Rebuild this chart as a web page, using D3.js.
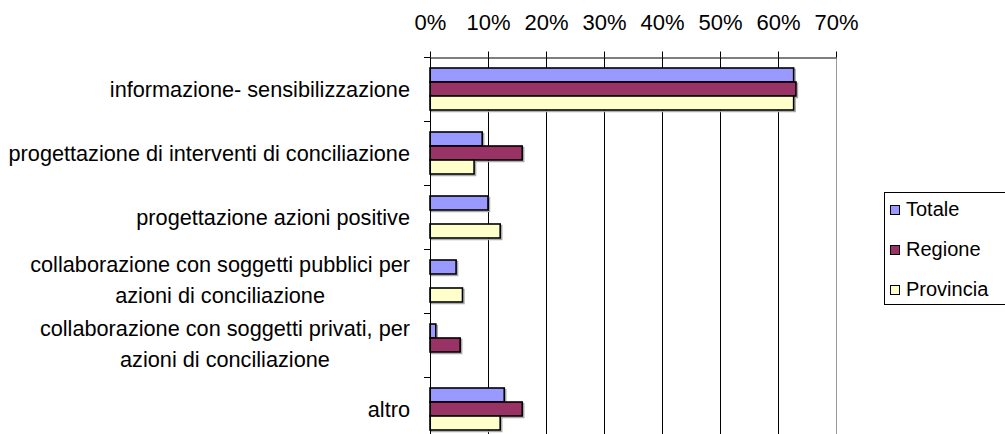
<!DOCTYPE html>
<html>
<head>
<meta charset="utf-8">
<script src="https://cdn.jsdelivr.net/npm/d3@7"></script>
<style>
  body { margin: 0; background: #fff; }
  svg { display: block; font-family: "Liberation Sans", Arial, sans-serif; }
</style>
</head>
<body>
<div id="chart"></div>
<script>
// dati (quota di risposte, 0-1)
const categories = [
  "informazione- sensibilizzazione",
  "progettazione di interventi di conciliazione",
  "progettazione azioni positive",
  "collaborazione con soggetti pubblici per\nazioni di conciliazione",
  "collaborazione con soggetti privati, per\nazioni di conciliazione",
  "altro"
];
const series = ["Totale", "Regione", "Provincia"];
const totale    = [0.627, 0.090, 0.100, 0.045, 0.010, 0.128];
const regione   = [0.631, 0.159, 0,     0,     0.052, 0.159];
const provincia = [0.627, 0.076, 0.121, 0.056, 0,     0.121];
const xTicks = [0, 0.1, 0.2, 0.3, 0.4, 0.5, 0.6, 0.7];
const colors = ["#9999ff", "#993366", "#ffffcc"];

const values = [totale, regione, provincia];
const rows = [];
categories.forEach((c, i) => {
  series.forEach((s, j) => rows.push({ cat: c, key: s, value: values[j][i] }));
});

const W = 1005, H = 434;
const svg = d3.select("#chart")
  .append("svg")
  .attr("width", W)
  .attr("height", H);

svg.append("rect").attr("width", W).attr("height", H).attr("fill", "#fff");

const x = d3.scaleLinear()
  .domain([0, 0.7])
  .range([430, 836]);

const y = d3.scaleBand()
  .domain(categories)
  .range([57.5, 57.5 + 64 * categories.length]);

const y1 = d3.scaleBand()
  .domain(series)
  .range([10.5, 52.5]);

const color = d3.scaleOrdinal().domain(series).range(colors);

// griglia verticale
svg.append("g")
  .selectAll("line")
  .data(xTicks.slice(1))
  .join("line")
  .attr("x1", d => Math.round(x(d)) + 0.5)
  .attr("x2", d => Math.round(x(d)) + 0.5)
  .attr("y1", y.range()[0])
  .attr("y2", H)
  .attr("stroke", (d, i) => i === xTicks.length - 2 ? "#999" : "#000")
  .attr("stroke-width", 1);

// barre (ombra + barra)
const bars = svg.append("g");
bars.selectAll("rect.shadow")
  .data(rows.filter(d => d.value > 0))
  .join("rect")
  .attr("class", "shadow")
  .attr("x", x(0) + 1.5)
  .attr("y", d => y(d.cat) + y1(d.key) + 1.5)
  .attr("width", d => x(d.value) - x(0))
  .attr("height", y1.bandwidth())
  .attr("fill", "none")
  .attr("stroke", "#aaa")
  .attr("stroke-width", 1.5);

bars.selectAll("rect.bar")
  .data(rows.filter(d => d.value > 0))
  .join("rect")
  .attr("class", "bar")
  .attr("x", x(0))
  .attr("y", d => y(d.cat) + y1(d.key))
  .attr("width", d => x(d.value) - x(0))
  .attr("height", y1.bandwidth())
  .attr("fill", d => color(d.key))
  .attr("stroke", "#000")
  .attr("stroke-width", 1.6);

// asse superiore
const xAxis = svg.append("g")
  .attr("transform", `translate(0,${y.range()[0]})`)
  .call(d3.axisTop(x)
    .tickValues(xTicks)
    .tickFormat(d3.format(".0%"))
    .tickSize(6)
    .tickSizeOuter(0)
    .tickPadding(22));
xAxis.select(".domain").attr("stroke", "#000");
xAxis.selectAll(".tick line").attr("stroke", "#000");
xAxis.selectAll("text")
  .attr("fill", "#000")
  .style("font-size", "22px")
  .style("font-family", "'Liberation Sans', Arial, sans-serif");

// asse categorie
const yAxis = svg.append("g")
  .attr("transform", `translate(${x(0)},0)`);
yAxis.append("line")
  .attr("x1", 0.5).attr("x2", 0.5)
  .attr("y1", y.range()[0]).attr("y2", H)
  .attr("stroke", "#000");
yAxis.selectAll("line.tk")
  .data(categories)
  .join("line")
  .attr("class", "tk")
  .attr("x1", -6).attr("x2", 0)
  .attr("y1", d => y(d)).attr("y2", d => y(d))
  .attr("stroke", "#000");

// etichette categorie
const labelRight = 410;
categories.forEach(c => {
  const lines = c.split("\n");
  const cy = y(c) + y.bandwidth() / 2;
  const t = svg.append("text")
    .attr("fill", "#000")
    .style("font-size", "21.7px");
  if (lines.length === 1) {
    t.attr("x", labelRight).attr("y", cy + 7.5)
      .attr("text-anchor", "end")
      .text(c);
  } else {
    const spans = lines.map((l, i) => t.append("tspan")
      .attr("y", cy - 10 + i * 31)
      .text(l));
    const maxW = d3.max(spans, s => s.node().getComputedTextLength());
    t.attr("text-anchor", "middle");
    spans.forEach(s => s.attr("x", labelRight - maxW / 2));
  }
});

// legenda
const legend = svg.append("g");
legend.append("rect")
  .attr("x", 884.5).attr("y", 192.5)
  .attr("width", 125).attr("height", 112)
  .attr("fill", "#fff")
  .attr("stroke", "#000");

const item = legend.selectAll("g.item")
  .data(series)
  .join("g")
  .attr("class", "item")
  .attr("transform", (d, i) => `translate(0,${216 + i * 40})`);

item.append("rect")
  .attr("x", 890.5).attr("y", -10.5)
  .attr("width", 9).attr("height", 9)
  .attr("fill", d => color(d))
  .attr("stroke", "#000");

item.append("text")
  .attr("x", 906)
  .attr("y", 0)
  .style("font-size", "20px")
  .attr("fill", "#000")
  .text(d => d);
</script>
</body>
</html>
